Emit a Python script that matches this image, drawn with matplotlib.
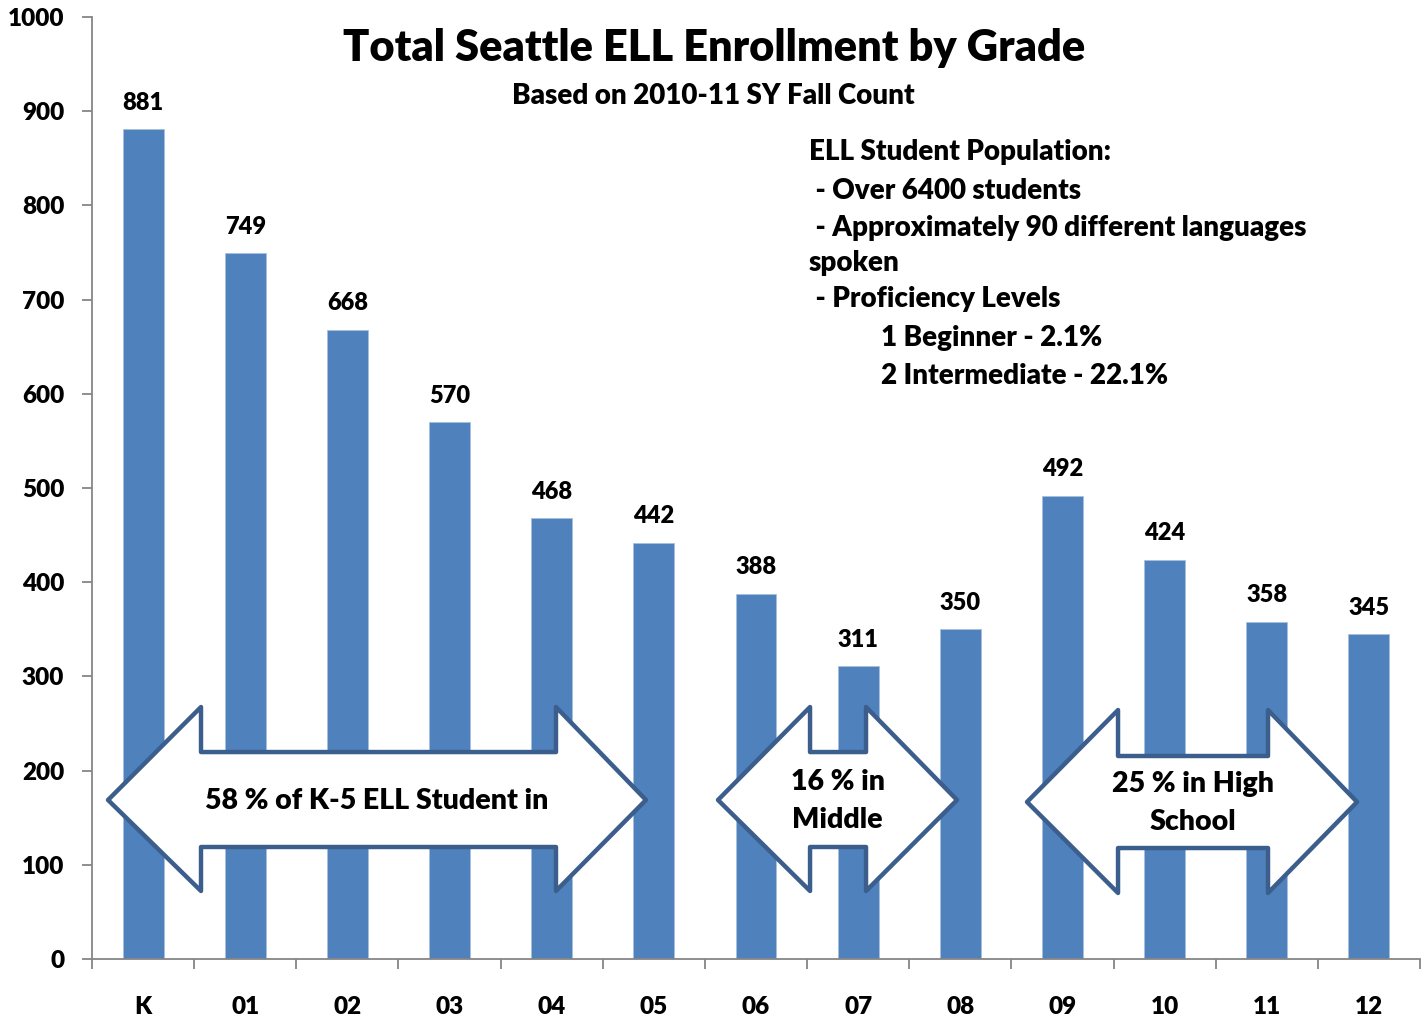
import matplotlib
matplotlib.use("Agg")
import matplotlib.pyplot as plt
from matplotlib.patches import Polygon

plt.rcParams['font.family'] = ['Lato', 'DejaVu Sans']
W = 'heavy'
plt.rcParams['font.weight'] = W

grades = ["K", "01", "02", "03", "04", "05", "06", "07", "08", "09", "10", "11", "12"]
enrollment = [881, 749, 668, 570, 468, 442, 388, 311, 350, 492, 424, 358, 345]
yticks = [0, 100, 200, 300, 400, 500, 600, 700, 800, 900, 1000]

bar_color = "#4F81BD"
arrow_edge = "#3B5E8C"
axis_gray = "#868686"

fig = plt.figure(figsize=(14.22, 10.23), dpi=100)
ax = fig.add_axes([92/1422, 64/1023, 1328/1422, 942/1023])

x = list(range(len(grades)))
ax.bar(x, enrollment, width=0.4, color=bar_color, edgecolor="#A7C0DE", linewidth=0.6, zorder=2)
for xi, v in zip(x, enrollment):
    ax.annotate(str(v), (xi, v), xytext=(0, 19), textcoords="offset points",
                ha="center", va="center", fontsize=17, fontweight=W)

ax.set_xlim(-0.5, len(grades) - 0.5)
ax.set_ylim(0, 1000)
ax.set_yticks(yticks)
ax.set_yticklabels([str(t) for t in yticks], fontsize=17.5, fontweight=W)
ax.set_xticks(x)
ax.set_xticklabels(grades, fontsize=17.5, fontweight=W)
ax.set_xticks([i - 0.5 for i in range(len(grades) + 1)], minor=True)
ax.tick_params(axis="x", which="major", length=0, pad=26.5)
ax.tick_params(axis="x", which="minor", length=7, color=axis_gray, width=1.3)
ax.tick_params(axis="y", length=7, color=axis_gray, width=1.3, pad=13)
for s in ["top", "right"]:
    ax.spines[s].set_visible(False)
for s in ["left", "bottom"]:
    ax.spines[s].set_color(axis_gray)
    ax.spines[s].set_linewidth(1.3)

# Titles
fig.text(714/1422, 1 - 48/1023, "Total Seattle ELL Enrollment by Grade", ha="center", va="center",
         fontsize=31.2, fontweight=W)
fig.text(713/1422, 1 - 96/1023, "Based on 2010-11 SY Fall Count", ha="center", va="center",
         fontsize=20, fontweight=W)

info_lines = [("ELL Student Population:", 809, 152),
              (" - Over 6400 students", 809, 191),
              (" - Approximately 90 different languages", 809, 228),
              ("spoken", 809, 263),
              (" - Proficiency Levels", 809, 299),
              ("1 Beginner - 2.1%", 881, 338),
              ("2 Intermediate - 22.1%", 881, 376)]
for t, px, py in info_lines:
    fig.text(px/1422, 1 - py/1023, t, ha="left", va="center", fontsize=20, fontweight=W)

# Double-headed block arrows (in data coords)
def block_arrow(xl, xbl, xbr, xr, yc, yht, yhb, yst, ysb):
    pts = [(xl, yc), (xbl, yht), (xbl, yst), (xbr, yst), (xbr, yht), (xr, yc),
           (xbr, yhb), (xbr, ysb), (xbl, ysb), (xbl, yhb)]
    p = Polygon(pts, closed=True, facecolor="white", edgecolor=arrow_edge,
                linewidth=3.2, joinstyle="round", zorder=3)
    ax.add_patch(p)

block_arrow(-0.343, 0.567, 4.042, 4.923, 168.8, 267.5, 72.2, 219.7, 118.9)
block_arrow(5.628, 6.529, 7.077, 7.968, 168.8, 267.5, 72.2, 219.7, 118.9)
block_arrow(8.653, 9.544, 11.012, 11.884, 166.7, 264.3, 70.1, 215.5, 117.8)

ax.text(2.29, 167.5, "58 % of K-5 ELL Student in", ha="center", va="center",
        fontsize=20.5, fontweight=W, zorder=4)
ax.text(6.80, 167.5, "16 % in\nMiddle", ha="center", va="center",
        fontsize=20.5, fontweight=W, linespacing=1.55, zorder=4)
ax.text(10.28, 165.5, "25 % in High\nSchool", ha="center", va="center",
        fontsize=20.5, fontweight=W, linespacing=1.55, zorder=4)

fig.savefig("out.png", dpi=100)
